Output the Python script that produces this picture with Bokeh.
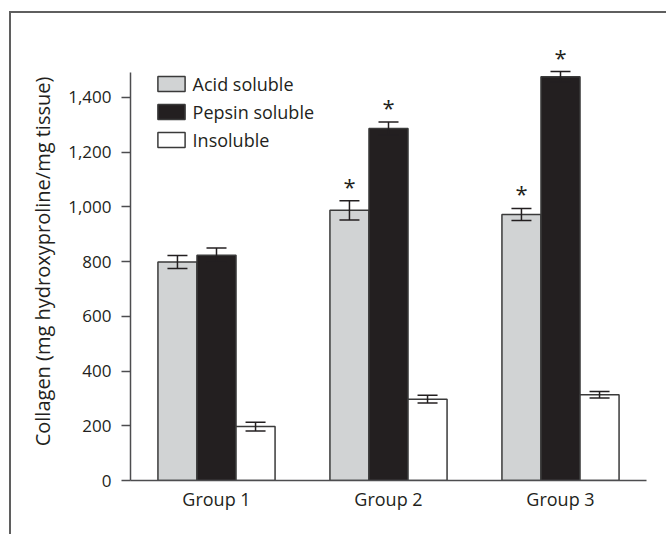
from bokeh.plotting import figure
from bokeh.models import (ColumnDataSource, FactorRange, Range1d, Whisker, TeeHead,
                          NumeralTickFormatter, FixedTicker, Legend, LegendItem)
from bokeh.transform import dodge
from bokeh.core.properties import value
from bokeh.embed import file_html
from bokeh.resources import INLINE

# ---------------- data ----------------
groups = ["Group 1", "Group 2", "Group 3"]
series_names = ["Acid soluble", "Pepsin soluble", "Insoluble"]
acid = [798, 987, 972]
acid_err = [24, 35, 22]
pepsin = [823, 1286, 1475]
pepsin_err = [26, 24, 19]
insoluble = [197, 297, 313]
insoluble_err = [16, 14, 12]
acid_sig = ["", "*", "*"]
pepsin_sig = ["", "*", "*"]
insoluble_sig = ["", "", ""]
y_ticks = [0, 200, 400, 600, 800, 1000, 1200, 1400]

# ---------------- style ----------------
FONT = "Open Sans"
TEXT = "#231f20"
AXIS = "#4d4d4f"
FILLS = ["#d1d3d4", "#231f20", "#ffffff"]
BAR_W = 0.227
OFFSETS = [-BAR_W, 0.0, BAR_W]

p = figure(width=657, height=523,
           x_range=FactorRange(factors=groups, range_padding=0),
           y_range=Range1d(0, 1600),
           output_backend="svg", toolbar_location=None,
           min_border_left=119, min_border_right=22,
           min_border_top=29, min_border_bottom=56)
p.styles = {"border-top": "2px solid #5f5f5f", "border-left": "2px solid #5f5f5f",
            "margin-top": "11px", "margin-left": "9px"}
p.outline_line_color = None
p.xgrid.grid_line_color = None
p.ygrid.grid_line_color = None
p.background_fill_color = "white"
p.border_fill_color = "white"

items = []
all_vals = [acid, pepsin, insoluble]
all_errs = [acid_err, pepsin_err, insoluble_err]
all_sig = [acid_sig, pepsin_sig, insoluble_sig]
for name, vals, errs, sig, fill, off in zip(series_names, all_vals, all_errs, all_sig, FILLS, OFFSETS):
    src = ColumnDataSource(dict(
        group=groups, val=vals,
        up=[v + e for v, e in zip(vals, errs)],
        lo=[v - e for v, e in zip(vals, errs)],
        sig=sig))
    xd = dodge("group", off, range=p.x_range)
    r = p.vbar(x=xd, top="val", width=BAR_W, source=src,
               fill_color=fill, line_color="#3a3a3a", line_width=1.5)
    items.append(LegendItem(label=name, renderers=[r]))
    w = Whisker(base=xd, upper="up", lower="lo", source=src, level="annotation",
                line_color=TEXT, line_width=1.5,
                upper_head=TeeHead(size=20, line_color=TEXT, line_width=1.5),
                lower_head=TeeHead(size=20, line_color=TEXT, line_width=1.5))
    p.add_layout(w)
    p.text(x=xd, y="up", text="sig", source=src, text_font=value(FONT),
           text_font_size="22px", text_align="center", text_baseline="middle",
           y_offset=-15, text_color=TEXT)

legend = Legend(items=items, location=(23.6, 328.5), glyph_width=34, glyph_height=19,
                label_text_font=FONT, label_text_font_size="18px", label_text_color=TEXT,
                label_standoff=5, spacing=4, padding=0, margin=0,
                border_line_color=None, background_fill_alpha=0)
p.add_layout(legend)

# y axis
p.yaxis.ticker = FixedTicker(ticks=y_ticks)
p.yaxis.formatter = NumeralTickFormatter(format="0,0")
p.yaxis.bounds = (0, 1490)
p.yaxis.major_tick_out = 9
p.yaxis.major_tick_in = 0
p.yaxis.minor_tick_line_color = None
p.yaxis.axis_line_color = AXIS
p.yaxis.axis_line_width = 1.5
p.yaxis.major_tick_line_color = AXIS
p.yaxis.major_tick_line_width = 1.5
p.yaxis.major_label_standoff = 10
p.yaxis.axis_label = "Collagen (mg hydroxyproline/mg tissue)"
p.yaxis.axis_label_standoff = 9
p.yaxis.axis_label_text_font_style = "normal"

# x axis
p.xaxis.major_tick_line_color = None
p.xaxis.major_tick_out = 0
p.xaxis.major_tick_in = 0
p.xaxis.minor_tick_line_color = None
p.xaxis.axis_line_color = AXIS
p.xaxis.axis_line_width = 1.5
p.xaxis.major_label_standoff = 6

for ax in (p.xaxis, p.yaxis):
    ax.major_label_text_font = FONT
    ax.major_label_text_font_size = "17px"
    ax.major_label_text_color = TEXT
    ax.axis_label_text_font = FONT
    ax.axis_label_text_font_size = "20px"
    ax.axis_label_text_color = TEXT
p.xaxis.major_label_text_font_size = "18px"

open("out.html", "w").write(file_html(p, INLINE))
